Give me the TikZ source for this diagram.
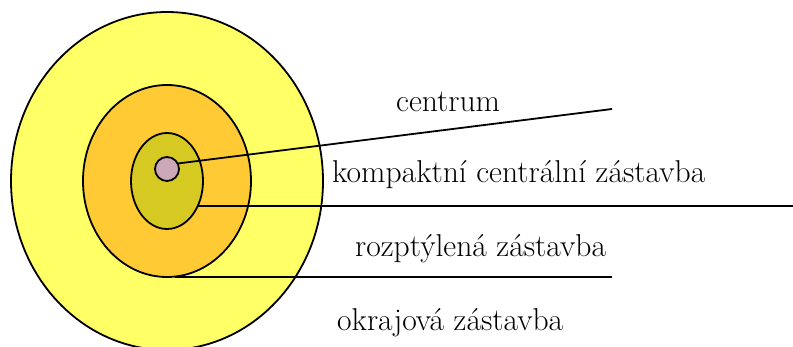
\documentclass[tikz,border=0pt]{standalone}
\usetikzlibrary{shapes.geometric}
\definecolor{outerzone}{HTML}{FFFF66}
\definecolor{midzone}{HTML}{FFCA33}
\definecolor{innerzone}{HTML}{D6CA22}
\definecolor{corezone}{HTML}{CCA8B8}
\begin{document}
\begin{tikzpicture}[x=1pt,y=-1pt,
  zone/.style={draw=black, line width=1.8pt, ellipse, inner sep=0pt, outer sep=0pt},
  leader/.style={line width=1.8pt},
  lab/.style={font=\fontsize{31.6}{38}\selectfont, anchor=base west, inner sep=0pt}]
\useasboundingbox (0,0) rectangle (793,347);
\clip (0,0) rectangle (793,347);
% concentric zones
\node[zone, fill=outerzone, minimum width=312pt, minimum height=338pt] (okraj) at (167,181) {};
\node[zone, fill=midzone, minimum width=168pt, minimum height=192pt] (rozpt) at (167,181) {};
\node[zone, fill=innerzone, minimum width=72pt, minimum height=96pt] (kompakt) at (167,181) {};
\node[zone, circle, fill=corezone, minimum size=24pt] (centrum) at (167,169) {};
% labels
\node[lab] (tcentrum) at (396,112) {centrum};
\node[lab] (tkompakt) at (332,183) {kompaktní centrální zástavba};
\node[lab] (trozpt) at (355,257) {rozptýlená zástavba};
\node[lab] (tokraj) at (337,331) {okrajová zástavba};
% leader line end points
\coordinate (ecentrum) at (612,109);
\coordinate (ekompakt) at (793,205);
\coordinate (erozpt) at (612,277);
% leader lines
\draw[leader] ([shift={(2pt,-3pt)}]centrum.north east) -- (ecentrum);
\draw[leader] (kompakt.-39) -- (ekompakt |- kompakt.-39);
\draw[leader] ([xshift=8pt]rozpt.south) -- (erozpt |- rozpt.south);
\end{tikzpicture}
\end{document}
